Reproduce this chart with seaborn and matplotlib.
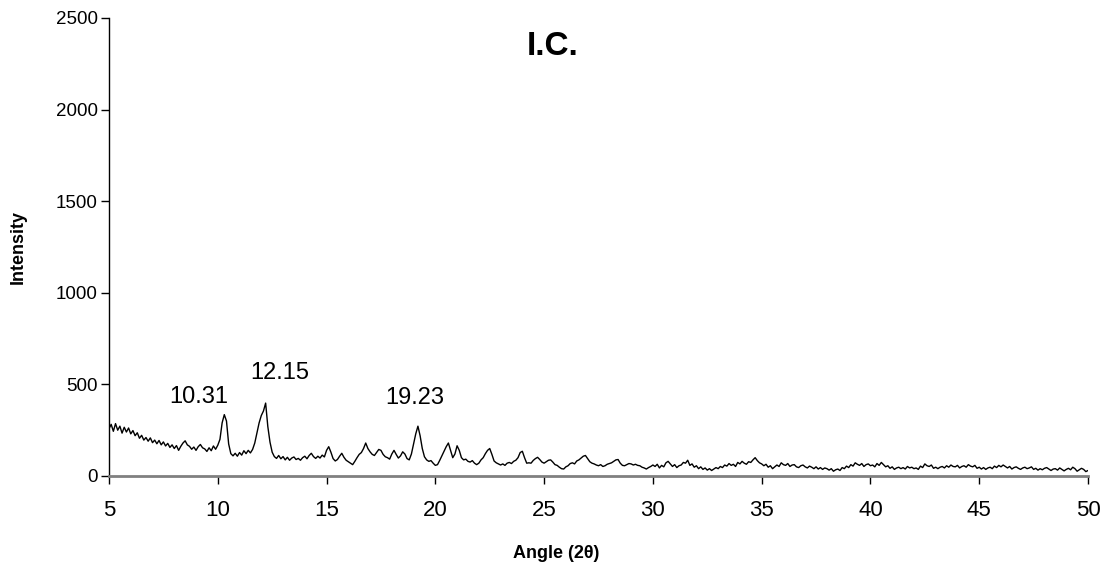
import numpy as np
import pandas as pd
import matplotlib
matplotlib.use("Agg")
import matplotlib.pyplot as plt
import seaborn as sns

# ---- data (intensity vs 2-theta) ----
# 5.0 .. 30.0 step 0.1
intensity_lo = [
    258, 282, 244, 286, 250, 272, 234, 266, 240, 262,
    230, 248, 220, 236, 206, 222, 196, 210, 190, 208,
    182, 196, 176, 194, 170, 186, 164, 178, 156, 170,
    150, 166, 140, 162, 180, 192, 170, 162, 146, 158,
    140, 160, 172, 154, 148, 134, 154, 138, 164, 146,
    168, 200, 290, 335, 300, 175, 122, 110, 124, 108,
    128, 114, 138, 122, 140, 126, 145, 180, 235, 290,
    330, 355, 398, 270, 185, 130, 106, 96, 112, 94,
    106, 88, 102, 86, 98, 104, 90, 96, 86, 100,
    108, 94, 112, 124, 106, 96, 108, 98, 114, 104,
    140, 160, 130, 95, 82, 90, 108, 124, 102, 86,
    78, 70, 62, 80, 100, 118, 128, 150, 180, 150,
    132, 118, 112, 128, 145, 140, 118, 105, 100, 92,
    120, 140, 118, 98, 110, 132, 120, 95, 88, 120,
    175, 230, 272, 220, 150, 105, 88, 80, 84, 70,
    58, 62, 85, 110, 135, 160, 180, 140, 100, 120,
    165, 140, 100, 88, 92, 80, 76, 84, 70, 62,
    70, 88, 100, 122, 140, 150, 118, 82, 72, 66,
    60, 66, 58, 70, 74, 68, 80, 86, 100, 128,
    135, 100, 70, 72, 70, 85, 95, 102, 90, 76,
    70, 78, 86, 88, 76, 62, 58, 48, 40, 38,
    50, 56, 68, 72, 66, 82, 88, 98, 108, 112,
    95, 78, 70, 66, 60, 56, 62, 52, 56, 64,
    68, 72, 80, 88, 90, 70, 58, 56, 62, 68,
    66, 60, 64, 58, 56, 48, 44, 38, 46, 52,
    60,
]
# 30.1 .. 50.0 step 0.1
intensity_hi = [
    52, 64, 44, 58, 50, 72, 80, 66, 52, 62,
    46, 56, 60, 74, 70, 86, 58, 66, 48, 56,
    40, 50, 36, 44, 32, 40, 30, 38, 46, 40,
    52, 46, 60, 54, 68, 58, 64, 52, 74, 66,
    80, 70, 64, 78, 74, 88, 100, 84, 72, 66,
    56, 64, 48, 56, 40, 50, 60, 52, 72, 62,
    58, 68, 52, 60, 62, 50, 46, 56, 60, 50,
    44, 54, 48, 40, 50, 38, 46, 36, 44, 40,
    32, 40, 26, 34, 38, 30, 46, 40, 54, 46,
    62, 54, 72, 64, 58, 68, 52, 62, 66, 56,
    60, 50, 68, 58, 74, 62, 50, 56, 42, 50,
    36, 44, 48, 40, 46, 38, 52, 44, 48, 40,
    44, 36, 54, 46, 66, 56, 52, 60, 42, 48,
    40, 48, 52, 44, 56, 48, 60, 52, 50, 58,
    44, 52, 56, 48, 62, 54, 50, 58, 42, 48,
    38, 46, 36, 44, 48, 40, 54, 46, 58, 50,
    60, 52, 44, 52, 38, 46, 50, 42, 36, 44,
    48, 40, 44, 50, 36, 42, 32, 40, 34, 42,
    46, 38, 30, 38, 40, 32, 44, 36, 28, 36,
    42, 34, 48, 40, 26, 34, 42, 36, 24, 30,
]
angle_lo = np.linspace(5.0, 30.0, len(intensity_lo))
angle_hi = np.linspace(30.1, 50.0, len(intensity_hi))

peak_labels = ["10.31", "12.15", "19.23"]
peak_label_x = [9.14, 12.86, 19.06]
peak_label_y = [433, 562, 426]

x_ticks = [5, 10, 15, 20, 25, 30, 35, 40, 45, 50]
y_ticks = [0, 500, 1000, 1500, 2000, 2500]

df = pd.DataFrame({
    "angle": np.concatenate([angle_lo, angle_hi]),
    "intensity": intensity_lo + intensity_hi,
})

sns.set_style("ticks")
plt.rcParams["font.family"] = ["Liberation Sans", "DejaVu Sans"]
plt.rcParams["text.color"] = "black"
plt.rcParams["axes.labelcolor"] = "black"
plt.rcParams["xtick.color"] = "black"
plt.rcParams["ytick.color"] = "black"

fig = plt.figure(figsize=(11.04, 5.67), dpi=100)
ax = fig.add_axes([109 / 1104, 1 - 476 / 567, (1088 - 109) / 1104, (476 - 18) / 567])

sns.lineplot(data=df, x="angle", y="intensity", ax=ax, color="black",
             linewidth=1.0, estimator=None, sort=False)

ax.set_xlim(5, 50)
ax.set_ylim(0, 2500)
ax.set_xticks(x_ticks)
ax.set_yticks(y_ticks)
ax.tick_params(axis="x", labelsize=16, length=6, width=1, pad=11, colors="black")
ax.tick_params(axis="y", labelsize=13.5, length=6, width=1, pad=2, colors="black")

for s in ["top", "right"]:
    ax.spines[s].set_visible(False)
ax.spines["left"].set_color("black")
ax.spines["left"].set_linewidth(1)
ax.spines["bottom"].set_color("#808080")
ax.spines["bottom"].set_linewidth(2)

ax.set_xlabel("Angle (2θ)", fontsize=13, fontweight="bold", labelpad=14)
ax.xaxis.set_label_coords((556 - 109) / 979, -0.151)
ax.set_ylabel("Intensity", fontsize=13, fontweight="bold")
ax.yaxis.set_label_coords(-(109 - 27) / 979, 0.5)

ax.text(25.4, 2345, "I.C.", fontsize=24, fontweight="bold", ha="center", va="center")
for lab, lx, ly in zip(peak_labels, peak_label_x, peak_label_y):
    ax.text(lx, ly, lab, fontsize=17, ha="center", va="center")

fig.savefig("out.png", dpi=100)
